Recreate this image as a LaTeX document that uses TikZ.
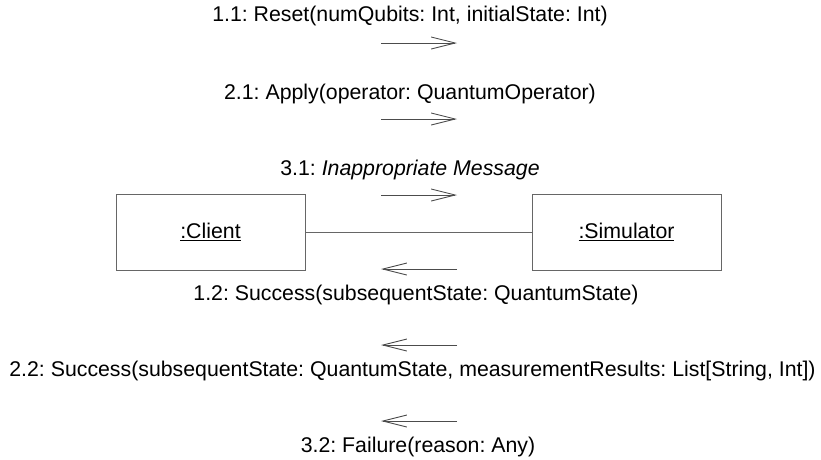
\documentclass[tikz,border=0pt]{standalone}
\usepackage{fontspec}
\setmainfont{Liberation Sans}
\usetikzlibrary{arrows.meta}
\begin{document}
\frenchspacing
\begin{tikzpicture}[x=1pt,y=-1pt,
  every node/.style={font=\fontsize{21.3}{25}\selectfont, inner sep=0pt},
  object/.style={draw=black!60, line width=1pt, minimum width=189pt, minimum height=76pt},
  link/.style={draw=black!60, line width=1pt},
  msg/.style={draw=black!70, line width=0.9pt, -{Straight Barb[length=24pt,width=12pt]}},
  lbl/.style={anchor=center}]
\useasboundingbox (0,0) rectangle (821,459);
% objects and their link
\node[object] (client) at (210.5,232) {\underline{:Client}};
\node[object] (sim) at (626.5,232) {\underline{:Simulator}};
\draw[link] (client.east) -- (sim.west);
% message arrows (client -> simulator)
\coordinate (r1a) at (381,43);  \coordinate (r1b) at (457,43);
\coordinate (r2a) at (381,119); \coordinate (r2b) at (457,119);
\coordinate (r3a) at (381,195); \coordinate (r3b) at (457,195);
\draw[msg] (r1a) -- (r1b);
\draw[msg] (r2a) -- (r2b);
\draw[msg] (r3a) -- (r3b);
% message arrows (simulator -> client)
\coordinate (l1a) at (457,269); \coordinate (l1b) at (381,269);
\coordinate (l2a) at (457,345); \coordinate (l2b) at (381,345);
\coordinate (l3a) at (457,421); \coordinate (l3b) at (381,421);
\draw[msg] (l1a) -- (l1b);
\draw[msg] (l2a) -- (l2b);
\draw[msg] (l3a) -- (l3b);
% message labels
\node[lbl] (m11) at (410,16) {1.1: Reset(numQubits: Int, initialState: Int)};
\node[lbl] (m21) at (410,94) {2.1: Apply(operator: QuantumOperator)};
\node[lbl] (m31) at (410,170) {3.1: \textit{Inappropriate Message}};
\node[lbl] (m12) at (416,295) {1.2: Success(subsequentState: QuantumState)};
\node[lbl] (m22) at (412.5,371) {2.2: Success(subsequentState: QuantumState, measurementResults: List[String, Int])};
\node[lbl] (m32) at (418,447) {3.2: Failure(reason: Any)};
\end{tikzpicture}
\end{document}
